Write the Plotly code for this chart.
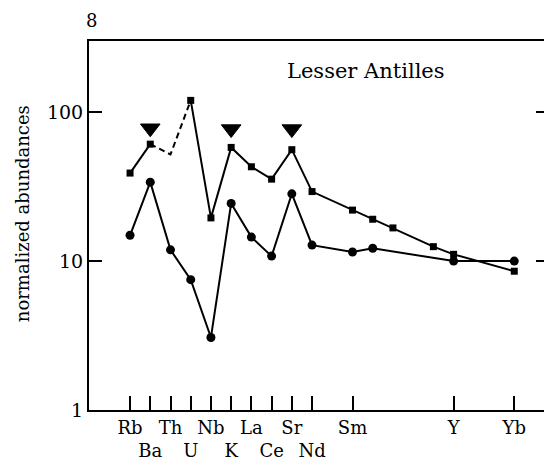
import plotly.graph_objects as go

# Element positions along the x axis (spider diagram order)
tick_pos = [0, 1, 2, 3, 4, 5, 6, 7, 8, 9, 11, 16, 19]
tick_text = ["Rb", "<br>Ba", "Th", "<br>U", "Nb", "<br>K", "La", "<br>Ce", "Sr", "<br>Nd", "Sm", "Y", "Yb"]

# Upper series (squares)
sq_x = [0, 1, None, 3, 4, 5, 6, 7, 8, 9, 11, 12, 13, 15, 16, 19]
sq_y = [39, 61, None, 120, 19.5, 58, 43, 35.5, 56, 29.3, 22, 19.1, 16.7, 12.5, 11.1, 8.55]

# Dashed (estimated) segment Ba - Th - U of the upper series
dash_x = [1, 2, 3]
dash_y = [61, 52, 120]

# Lower series (circles)
ci_x = [0, 1, 2, 3, 4, 5, 6, 7, 8, 9, 11, 12, 16, 19]
ci_y = [14.9, 33.9, 11.9, 7.5, 3.07, 24.4, 14.5, 10.8, 28.3, 12.8, 11.5, 12.2, 10.0, 10.0]

# Triangles marking Ba, K, Sr
tri_x = [1, 5, 8]
tri_y = [78, 77, 77]

FONT = "DejaVu Serif"

fig = go.Figure()
fig.add_trace(go.Scatter(x=dash_x, y=dash_y, mode="lines",
                         line=dict(color="black", width=2, dash="6px,4px"),
                         showlegend=False, hoverinfo="skip"))
fig.add_trace(go.Scatter(x=sq_x, y=sq_y, mode="lines+markers",
                         line=dict(color="black", width=2),
                         marker=dict(symbol="square", size=7, color="black"),
                         connectgaps=False, showlegend=False))
fig.add_trace(go.Scatter(x=ci_x, y=ci_y, mode="lines+markers",
                         line=dict(color="black", width=2),
                         marker=dict(symbol="circle", size=9, color="black"),
                         showlegend=False))
fig.add_trace(go.Scatter(x=tri_x, y=tri_y, mode="markers",
                         marker=dict(symbol="triangle-down", size=17, color="black",
                                     line=dict(color="black", width=1)),
                         showlegend=False))
# invisible trace to carry the right-hand tick axis
fig.add_trace(go.Scatter(x=[tick_pos[-1]], y=[ci_y[-1]], yaxis="y2", mode="markers",
                         marker=dict(opacity=0), showlegend=False, hoverinfo="skip"))

fig.update_layout(
    width=544, height=462,
    margin=dict(l=89, r=0, t=41, b=52),
    paper_bgcolor="white", plot_bgcolor="white",
    font=dict(family=FONT, size=18, color="black"),
    xaxis=dict(range=[-2.03, 20.47], tickvals=tick_pos, ticktext=tick_text,
               ticks="inside", ticklen=14, tickwidth=2, tickcolor="black",
               showline=True, linewidth=2, linecolor="black", mirror=True,
               showgrid=False, zeroline=False, tickangle=0,
               tickfont=dict(family=FONT, size=18)),
    yaxis=dict(type="log", range=[0, 2.478], tickvals=[1, 10, 100],
               ticktext=["1", "10", "100"],
               ticks="inside", ticklen=13, tickwidth=2, tickcolor="black",
               showline=True, linewidth=2, linecolor="black", mirror=False,
               showgrid=False, zeroline=False,
               tickfont=dict(family=FONT, size=19)),
    yaxis2=dict(type="log", range=[0, 2.478], tickvals=[10, 100], overlaying="y",
                side="right", anchor="x", ticks="inside", ticklen=8, tickwidth=2,
                tickcolor="black", showticklabels=False, showline=False,
                showgrid=False, zeroline=False),
    annotations=[
        dict(text="8", xref="paper", yref="paper", x=0.005, y=1.056,
             xanchor="center", yanchor="middle", showarrow=False,
             font=dict(family=FONT, size=18)),
        dict(text="Lesser Antilles", xref="paper", yref="paper", x=0.609, y=0.918,
             xanchor="center", yanchor="middle", showarrow=False,
             font=dict(family=FONT, size=21)),
        dict(text="normalized abundances", xref="paper", yref="paper",
             x=-0.147, y=0.531, xanchor="center", yanchor="middle",
             textangle=-90, showarrow=False,
             font=dict(family=FONT, size=18)),
    ],
)

fig.write_html("out.html")
